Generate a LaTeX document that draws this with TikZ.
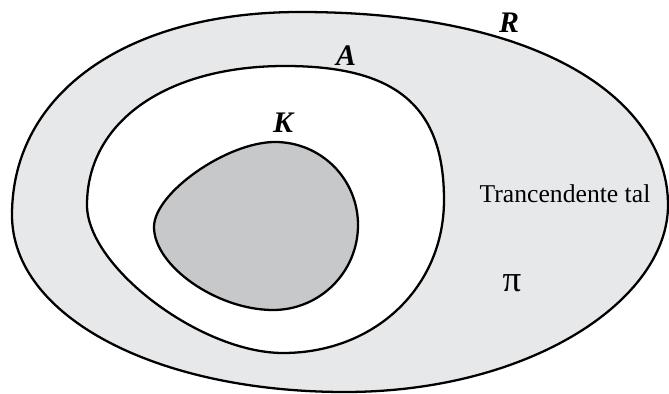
\documentclass[tikz,border=0pt]{standalone}
\usepackage{fontspec}
\setmainfont{Liberation Serif}
\usepackage{tikz}
\usetikzlibrary{positioning}

\definecolor{ringgray}{RGB}{231,232,234}
\definecolor{coregray}{RGB}{199,200,202}

\tikzset{
    region/.style={draw=black, line width=1.3pt, line join=round},
    setname/.style={font=\fontsize{17}{19}\selectfont\bfseries\itshape},
    plainlabel/.style={font=\fontsize{14.6}{17}\selectfont}
}

\begin{document}
\begin{tikzpicture}[x=0.02cm, y=-0.02cm]

                % Frame (pixel units)
                \useasboundingbox (0,0) rectangle (669,394);

                % Outer region R
                \draw[region, fill=ringgray] (12,215)
                    .. controls (12,93) and (127,12) .. (300,12)
                    .. controls (550,12) and (668,105) .. (668,205)
                    .. controls (668,300) and (530,392) .. (345,392)
                    .. controls (155,392) and (12,316) .. (12,215) -- cycle;

                % Middle region A
                \draw[region, fill=white] (87,205)
                    .. controls (87,122) and (166,66) .. (285,66)
                    .. controls (396,66) and (444,106) .. (444,200)
                    .. controls (444,287) and (375,353) .. (283,353)
                    .. controls (201,353) and (87,267) .. (87,205) -- cycle;

                % Inner region K
                \draw[region, fill=coregray] (154,227)
                    .. controls (154,193) and (227,142) .. (275,142)
                    .. controls (321,142) and (358,179) .. (358,225)
                    .. controls (358,272) and (320,310) .. (273,310)
                    .. controls (217,310) and (154,266) .. (154,227) -- cycle;

                % Set names
                \node[setname] (labelR) at (509,23) {R};
                \node[setname] (labelA) at (346,56) {A};
                \node[setname] (labelK) at (283,123) {K};

                % Texts in the outer ring
                \node[plainlabel] (trans) at (565,194) {Trancendente tal};
                \node[font=\fontsize{21}{23}\selectfont] (pi) at (512,283) {π};
            \end{tikzpicture}
\end{document}
